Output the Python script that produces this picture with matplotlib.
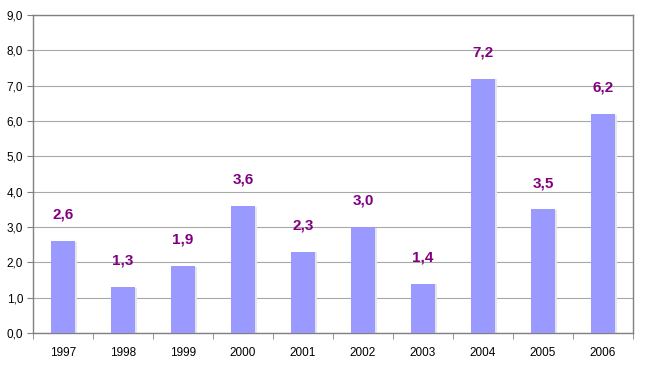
import numpy as np
import matplotlib.pyplot as plt
from matplotlib.ticker import FuncFormatter, FixedLocator

years = ["1997", "1998", "1999", "2000", "2001", "2002", "2003", "2004", "2005", "2006"]
values = [2.6, 1.3, 1.9, 3.6, 2.3, 3.0, 1.4, 7.2, 3.5, 6.2]
labels = ["2,6", "1,3", "1,9", "3,6", "2,3", "3,0", "1,4", "7,2", "3,5", "6,2"]

plt.rcParams['font.family'] = ['Liberation Sans', 'DejaVu Sans']

fig = plt.figure(figsize=(6.49, 3.68), dpi=100)
ax = fig.add_axes([33/649, 1 - 333/368, 600/649, 318/368])

x = np.arange(len(years))
# soft shadow behind bars
ax.bar(x + 0.04, np.array(values) - 0.02, width=0.4, color='#e6e6e6', zorder=2)
ax.bar(x, values, width=0.4, color='#9999ff', zorder=3)

for xi, v, lab in zip(x, values, labels):
    ax.annotate(lab, (xi, v), xytext=(0, 16), textcoords='offset points',
                ha='center', va='baseline', color='#800080', fontsize=11,
                fontweight='bold')

ax.set_xlim(-0.5, len(years) - 0.5)
ax.set_ylim(0, 9)
ax.set_yticks(np.arange(0, 10, 1))
ax.yaxis.set_major_formatter(FuncFormatter(lambda v, p: f"{v:.1f}".replace('.', ',')))
ax.grid(axis='y', color='#a8a8a8', linewidth=0.8, zorder=0)

ax.set_xticks(x)
ax.set_xticklabels(years)
ax.tick_params(axis='x', length=0, pad=10, labelsize=8.5)
ax.xaxis.set_minor_locator(FixedLocator(np.arange(-0.5, len(years), 1)))
ax.tick_params(axis='x', which='minor', length=4, color='#808080', direction='out')
ax.tick_params(axis='y', length=4, color='#808080', labelsize=8.5, pad=3)

for s in ax.spines.values():
    s.set_color('#808080')
    s.set_linewidth(1.0)

fig.savefig('out.png', dpi=100)
